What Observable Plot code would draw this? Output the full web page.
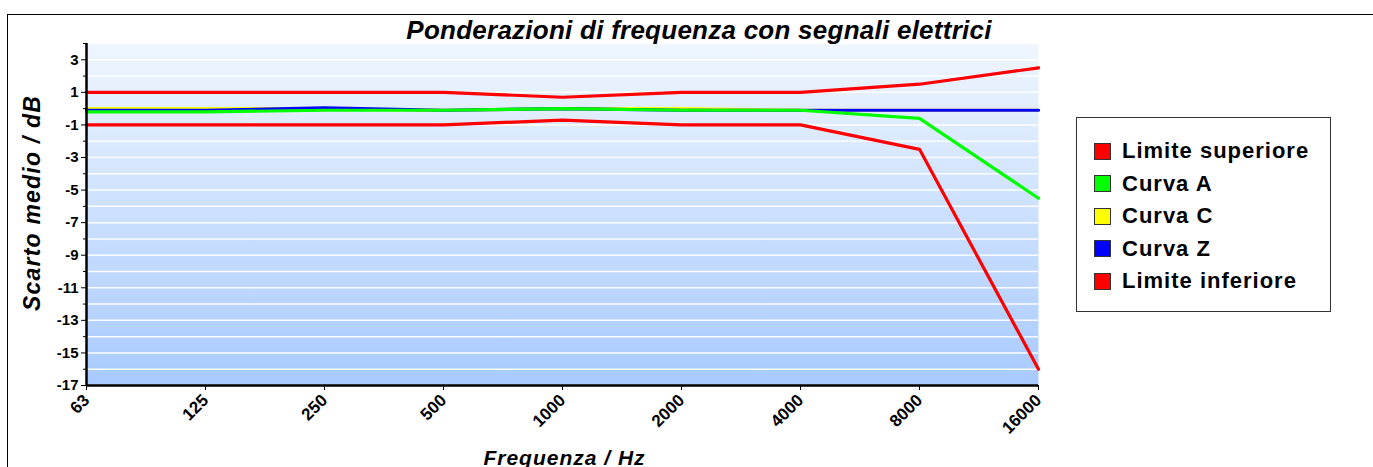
<!DOCTYPE html>
<html><head><meta charset="utf-8">
<script src="https://cdn.jsdelivr.net/npm/d3@7"></script>
<script src="https://cdn.jsdelivr.net/npm/@observablehq/plot@0.6"></script>
<style>
body{margin:0;background:#fff;font-family:"Liberation Sans",Arial,sans-serif;}
#wrap{position:relative;width:1373px;height:467px;overflow:hidden;}
#frame{position:absolute;left:7px;top:14px;width:1400px;height:500px;border-left:1.5px solid #000;border-top:1.5px solid #000;}
#chart{position:absolute;left:0;top:0;}
.t{position:absolute;font-weight:bold;font-style:italic;color:#000;white-space:nowrap;line-height:1.15;}
#title{left:0;width:1398px;top:16px;text-align:center;font-size:26px;letter-spacing:0.25px;}
#ylab{left:32px;top:203px;font-size:23px;letter-spacing:1.2px;transform:translate(-50%,-50%) rotate(-90deg);}
#xlab{left:0;width:1129px;top:446px;text-align:center;font-size:21px;letter-spacing:1px;}
#legend{position:absolute;left:1076px;top:117px;width:253px;height:193px;border:1px solid #333;background:#fff;}
.row{position:absolute;left:17px;height:22px;display:flex;align-items:center;font-weight:bold;font-size:22px;letter-spacing:1px;}
.sw{width:17px;height:17px;border:1px solid #333;margin-right:11px;box-sizing:border-box;flex:none;}
</style></head>
<body>
<div id="wrap">
<div id="frame"></div>
<div id="chart"></div>
<div class="t" id="title">Ponderazioni di frequenza con segnali elettrici</div>
<div class="t" id="ylab">Scarto medio / dB</div>
<div class="t" id="xlab">Frequenza / Hz</div>
<div id="legend"></div>
</div>
<script>
const freqs = ["63","125","250","500","1000","2000","4000","8000","16000"];
const limiteSuperiore = [1, 1, 1, 1, 0.7, 1, 1, 1.5, 2.5];
const curvaA = [-0.2, -0.2, -0.1, -0.1, 0, -0.1, -0.1, -0.6, -5.5];
const curvaC = [0, 0, 0, -0.1, 0, 0, -0.1, -0.1, -0.1];
const curvaZ = [-0.1, -0.1, 0.05, -0.1, 0, -0.1, -0.1, -0.1, -0.1];
const limiteInferiore = [-1, -1, -1, -1, -0.7, -1, -1, -2.5, -16];
const yTicks = [-17, -15, -13, -11, -9, -7, -5, -3, -1, 1, 3];
const yMinor = [-16, -14, -12, -10, -8, -6, -4, -2, 0, 2, 4];
const legendNames = ["Limite superiore", "Curva A", "Curva C", "Curva Z", "Limite inferiore"];
const legendColors = ["#ff0000", "#00ff00", "#ffff00", "#0000ff", "#ff0000"];

const series = [
  {name: "Limite superiore", values: limiteSuperiore, color: "#ff0000"},
  {name: "Limite inferiore", values: limiteInferiore, color: "#ff0000"},
  {name: "Curva C", values: curvaC, color: "#ffff00"},
  {name: "Curva Z", values: curvaZ, color: "#0000ff"},
  {name: "Curva A", values: curvaA, color: "#00ff00"}
];
const toData = s => freqs.map((f, i) => ({f, v: s.values[i]}));

const chart = Plot.plot({
  width: 1373, height: 467,
  marginLeft: 86, marginRight: 335, marginTop: 43, marginBottom: 82,
  style: {background: "transparent", color: "#000"},
  x: {type: "point", domain: freqs, padding: 0, label: null},
  y: {domain: [-17, 4], label: null},
  marks: [
    Plot.frame({fill: "url(#bg)", stroke: null}),
    Plot.gridY(d3.range(-17, 5), {stroke: "#fff", strokeOpacity: 0.95, strokeWidth: 1.5}),
    ...series.map(s => Plot.line(toData(s), {x: "f", y: "v", stroke: s.color, strokeWidth: 3.2, curve: "linear"})),
    Plot.axisY({ticks: yMinor, tickSize: 3, tickFormat: null, text: null, stroke: "#000"}),
    Plot.axisY({ticks: yTicks, tickSize: 5, tickPadding: 3, tickFormat: d => String(d), fontWeight: "bold", fontSize: 15}),
    Plot.axisX({tickSize: 5, tickRotate: -45, tickPadding: 7, fontWeight: "bold", fontSize: 17}),
    Plot.ruleX([freqs[0]], {stroke: "#000", strokeWidth: 2.5}),
    Plot.ruleY([-17], {stroke: "#000", strokeWidth: 2.5})
  ]
});
chart.style.fontFamily = "'Liberation Sans', Arial, sans-serif";
const svg = d3.select(chart);
const grad = svg.insert("defs", ":first-child").append("linearGradient")
  .attr("id", "bg").attr("x1", 0).attr("y1", 0).attr("x2", 0).attr("y2", 1);
grad.append("stop").attr("offset", "0%").attr("stop-color", "#eff6fe");
grad.append("stop").attr("offset", "100%").attr("stop-color", "#a8caff");
document.getElementById("chart").appendChild(chart);

const leg = document.getElementById("legend");
legendNames.forEach((n, i) => {
  const r = document.createElement("div");
  r.className = "row";
  r.style.top = (22 + i * 32.5) + "px";
  const sw = document.createElement("div");
  sw.className = "sw"; sw.style.background = legendColors[i];
  r.appendChild(sw);
  r.appendChild(document.createTextNode(n));
  leg.appendChild(r);
});
</script>
</body></html>
